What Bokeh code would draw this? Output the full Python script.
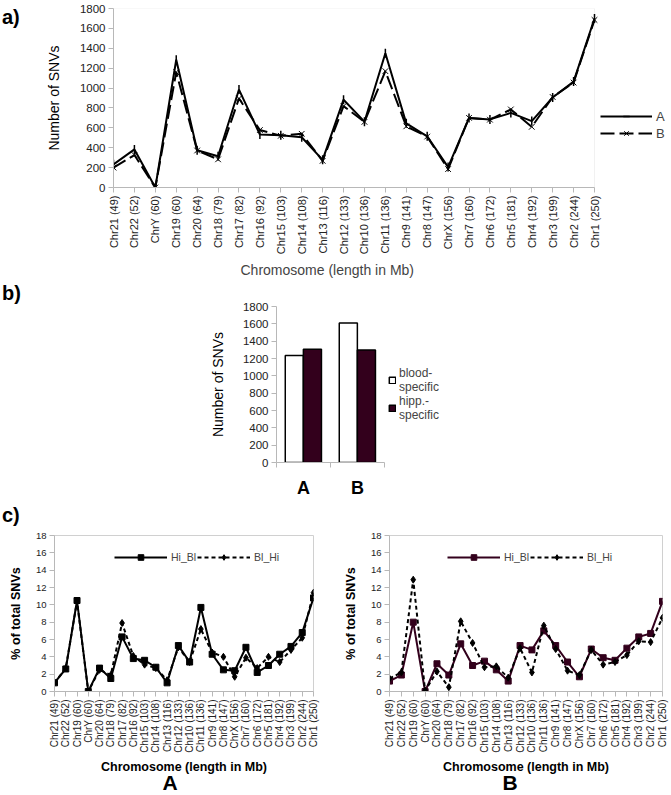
from math import pi
import numpy as np
from bokeh.plotting import figure
from bokeh.models import Range1d, FixedTicker, Legend, LegendItem, Title, Div, BoxAnnotation
from bokeh.layouts import row
from bokeh.embed import file_html
from bokeh.resources import INLINE

FONT = "Liberation Sans"

# ---------------- data ----------------
chrom_a = ["Chr21 (49)", "Chr22 (52)", "ChrY (60)", "Chr19 (60)", "Chr20 (64)", "Chr18 (79)",
           "Chr17 (82)", "Chr16 (92)", "Chr15 (103)", "Chr14 (108)", "Chr13 (116)", "Chr12 (133)",
           "Chr10 (136)", "Chr11 (136)", "Chr9 (141)", "Chr8 (147)", "ChrX (156)", "Chr7 (160)",
           "Chr6 (172)", "Chr5 (181)", "Chr4 (192)", "Chr3 (199)", "Chr2 (244)", "Chr1 (250)"]
snv_A = [233, 383, 0, 1285, 375, 315, 985, 533, 525, 505, 278, 883, 662, 1350, 645, 515, 205,
         700, 685, 750, 668, 905, 1065, 1700]
snv_B = [200, 327, 0, 1160, 372, 283, 895, 578, 520, 540, 268, 818, 660, 1170, 615, 512, 185,
         700, 682, 785, 610, 910, 1055, 1685]

groups = ["A", "B"]
blood_specific = [1234, 1610]
hipp_specific = [1307, 1299]

chrom_c = ["Chr21 (49)", "Chr22 (52)", "Chr19 (60)", "ChrY (60)", "Chr20 (64)", "Chr18 (79)",
           "Chr17 (82)", "Chr16 (92)", "Chr15 (103)", "Chr14 (108)", "Chr13 (116)", "Chr12 (133)",
           "Chr10 (136)", "Chr11 (136)", "Chr9 (141)", "Chr8 (147)", "ChrX (156)", "Chr7 (160)",
           "Chr6 (172)", "Chr5 (181)", "Chr4 (192)", "Chr3 (199)", "Chr2 (244)", "Chr1 (250)"]
hi_bl_A = [1.0, 2.6, 10.5, 0.0, 2.7, 1.5, 6.3, 3.8, 3.6, 2.8, 1.0, 5.3, 3.4, 9.7, 4.3, 2.5, 2.4,
           5.1, 2.2, 3.0, 4.3, 5.2, 6.8, 10.8]
bl_hi_A = [1.0, 2.7, 10.4, 0.0, 2.5, 1.9, 7.9, 4.1, 3.1, 2.7, 1.3, 5.1, 3.4, 7.2, 4.5, 4.0, 1.7,
           3.9, 2.7, 4.0, 3.4, 4.8, 6.2, 11.4]
hi_bl_B = [1.2, 1.9, 8.0, 0.0, 3.2, 1.9, 5.5, 3.0, 3.5, 2.5, 1.2, 5.3, 4.8, 7.0, 5.3, 3.4, 1.7,
           4.9, 3.9, 3.6, 5.0, 6.3, 6.7, 10.4]
bl_hi_B = [1.5, 2.2, 12.9, 0.1, 2.3, 0.5, 8.1, 5.6, 2.8, 2.9, 1.6, 5.0, 2.2, 7.6, 4.9, 2.4, 1.9,
           4.8, 3.1, 3.4, 4.2, 5.8, 5.7, 8.5]

AX = "#b8b8b8"
BORDER = "#d0d0d0"
MAROON = "#33001c"
W = 671


def style_axes(p, xfont, yfont):
    p.xgrid.visible = False
    p.ygrid.visible = False
    p.outline_line_color = BORDER
    for ax in (p.xaxis[0], p.yaxis[0]):
        ax.axis_line_color = AX
        ax.major_tick_line_color = AX
        ax.minor_tick_line_color = None
        ax.major_tick_in = 0
        ax.major_tick_out = 5
        ax.major_label_text_font = FONT
        ax.major_label_text_color = "#222222"
        ax.axis_label_text_font = FONT
        ax.axis_label_text_color = "black"
        ax.axis_label_text_font_style = "normal"
    p.xaxis[0].major_label_text_font_size = xfont
    p.yaxis[0].major_label_text_font_size = yfont
    p.xaxis[0].major_label_standoff = 3
    p.yaxis[0].major_label_standoff = 3


def tag(text, left, top, size="20px", w=30, h=22, align="left"):
    return Div(text=text, width=w, height=h, margin=0,
               styles={"position": "absolute", "left": f"{left}px", "top": f"{top}px",
                       "z-index": "20", "font-family": FONT, "font-weight": "bold",
                       "font-size": size, "line-height": "1", "color": "black",
                       "text-align": align})


# ---------------- panel a ----------------
xa = np.arange(len(chrom_a))
na = len(chrom_a) - 1
A_LEFT, A_PLOT_W = 113, 481
pa = figure(width=W, height=282, x_range=Range1d(0, na * (W - A_LEFT) / A_PLOT_W),
            y_range=Range1d(0, 1800), output_backend="svg", toolbar_location=None,
            min_border_left=A_LEFT, min_border_right=0, min_border_top=8, min_border_bottom=95)
style_axes(pa, "11px", "11.5px")
pa.outline_line_color = None
pa.add_layout(BoxAnnotation(left=0, right=na, bottom=0, top=1800, fill_alpha=0,
                            line_color=BORDER, line_width=1, level="underlay"))
pa.xaxis.bounds = (0, na)
pa.xaxis.ticker = FixedTicker(ticks=list(xa))
pa.xaxis.major_label_overrides = {int(i): c for i, c in zip(xa, chrom_a)}
pa.xaxis.major_label_orientation = pi / 2
pa.yaxis.ticker = FixedTicker(ticks=list(range(0, 1801, 200)))
pa.yaxis.axis_label = "Number of SNVs"
pa.yaxis.axis_label_text_font_size = "14px"
pa.yaxis.axis_label_standoff = 15
pa.add_layout(Title(text="Chromosome (length in Mb)", align="left", offset=127, standoff=4,
                    text_font=FONT, text_font_size="14px", text_font_style="normal"), "below")

la = pa.line(xa, snv_A, line_color="black", line_width=2)
ma = pa.scatter(xa, snv_A, marker="dash", angle=pi / 2, size=9, line_color="black", line_width=1.5)
lb = pa.line(xa, snv_B, line_color="black", line_width=2, line_dash="14 5")
mb = pa.scatter(xa, snv_B, marker="x", size=8, line_color="black", line_width=1)
leg_a = Legend(items=[LegendItem(label="A", renderers=[la, ma]),
                      LegendItem(label="B", renderers=[lb, mb])],
               location=(487, 46), padding=0, margin=0, spacing=1, glyph_width=52,
               glyph_height=16, label_height=16, label_standoff=4,
               label_text_font=FONT, label_text_font_size="13px",
               border_line_alpha=0, background_fill_alpha=0)
pa.add_layout(leg_a)

# ---------------- panel b ----------------
xb = np.arange(len(groups))
B_LEFT, B_UNIT, B_FRAME_W = 276, 54, 184
pb = figure(width=W, height=218, x_range=Range1d(-0.5, -0.5 + B_FRAME_W / B_UNIT),
            y_range=Range1d(0, 1800), output_backend="svg", toolbar_location=None,
            min_border_left=B_LEFT, min_border_right=W - B_LEFT - B_FRAME_W,
            min_border_top=24, min_border_bottom=36)
style_axes(pb, "18px", "11.5px")
pb.outline_line_color = None
pb.xaxis.bounds = (-0.5, 1.5)
pb.xaxis.ticker = FixedTicker(ticks=list(xb), minor_ticks=[-0.5, 0.5, 1.5])
pb.xaxis.major_label_overrides = {int(i): g for i, g in zip(xb, groups)}
pb.xaxis.major_label_text_font_style = "bold"
pb.xaxis.major_label_text_color = "black"
pb.xaxis.major_tick_out = 0
pb.xaxis.minor_tick_out = 5
pb.xaxis.minor_tick_in = 0
pb.xaxis.minor_tick_line_color = AX
pb.xaxis.major_label_standoff = 10
pb.yaxis.ticker = FixedTicker(ticks=list(range(0, 1801, 200)))
pb.yaxis.axis_label = "Number of SNVs"
pb.yaxis.axis_label_text_font_size = "14px"
pb.yaxis.axis_label_standoff = 14
vb1 = pb.vbar(x=xb - 0.17, top=blood_specific, width=0.335, fill_color="white",
              line_color="black", line_width=1.5)
vb2 = pb.vbar(x=xb + 0.165, top=hipp_specific, width=0.335, fill_color=MAROON,
              line_color="black", line_width=1.5)
leg_b = Legend(items=[LegendItem(label="blood-\nspecific", renderers=[vb1]),
                      LegendItem(label="hipp.-\nspecific", renderers=[vb2])],
               location=(112, 40), padding=0, margin=0, spacing=0, glyph_width=8,
               glyph_height=8, label_height=26, label_standoff=3,
               label_text_font=FONT, label_text_font_size="12px",
               border_line_alpha=0, background_fill_alpha=0)
pb.add_layout(leg_b)


# ---------------- panel c ----------------
def panel_c(width, left, fw, hi, bl, solid_color, leg_x):
    xc = np.arange(len(chrom_c))
    p = figure(width=width, height=295, x_range=Range1d(0, len(chrom_c) - 1),
               y_range=Range1d(0, 18), output_backend="svg", toolbar_location=None,
               min_border_left=left, min_border_right=width - left - fw,
               min_border_top=35, min_border_bottom=104)
    style_axes(p, "10px", "9.5px")
    p.xaxis.ticker = FixedTicker(ticks=list(xc))
    p.xaxis.major_label_overrides = {int(i): c for i, c in zip(xc, chrom_c)}
    p.xaxis.major_label_orientation = pi / 2
    p.yaxis.ticker = FixedTicker(ticks=list(range(0, 19, 2)))
    p.yaxis.axis_label = "% of total SNVs"
    p.yaxis.axis_label_text_font_size = "12.5px"
    p.yaxis.axis_label_text_font_style = "bold"
    p.yaxis.axis_label_standoff = 10
    p.xaxis.axis_label = "Chromosome (length in Mb)"
    p.xaxis.axis_label_text_font_size = "12.5px"
    p.xaxis.axis_label_text_font_style = "bold"
    p.xaxis.axis_label_standoff = 4
    l1 = p.line(xc, hi, line_color=solid_color, line_width=2)
    m1 = p.scatter(xc, hi, marker="square", size=6, fill_color=solid_color, line_color=solid_color)
    l2 = p.line(xc, bl, line_color="black", line_width=2, line_dash="4 3")
    m2 = p.scatter(xc, bl, marker="diamond", size=7, fill_color="black", line_color="black")
    leg = Legend(items=[LegendItem(label="Hi_Bl", renderers=[l1, m1]),
                        LegendItem(label="Bl_Hi", renderers=[l2, m2])],
                 orientation="horizontal", location=(leg_x, 127), padding=0, margin=0, spacing=1,
                 glyph_width=53, glyph_height=14, label_height=14, label_standoff=4,
                 label_text_font=FONT, label_text_font_size="10.5px",
                 border_line_alpha=0, background_fill_alpha=0)
    p.add_layout(leg)
    return p


pcA = panel_c(340, 54, 259, hi_bl_A, bl_hi_A, "black", 60)
pcB = panel_c(331, 45, 277, hi_bl_B, bl_hi_B, MAROON, 58)
root_c = row(pcA, pcB, spacing=0)

roots = [tag("a)", 2, 7), tag("b)", 2, 283), tag("c)", 2, 505),
         tag("A", 150, 772, size="21px", w=40, h=21, align="center"),
         tag("B", 490, 772, size="21px", w=40, h=21, align="center"),
         pa, pb, root_c]
open("out.html", "w").write(file_html(roots, INLINE))
